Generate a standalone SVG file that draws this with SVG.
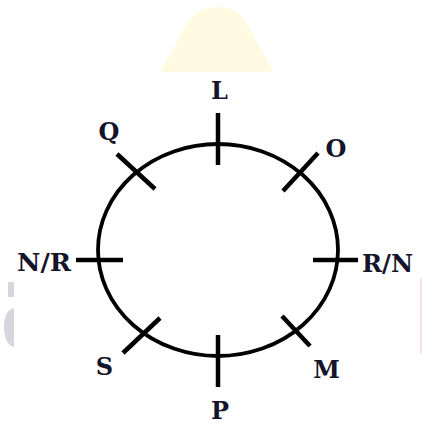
<svg xmlns="http://www.w3.org/2000/svg" width="422" height="424" viewBox="0 0 422 424">
<style>
.tick{stroke:#000;stroke-width:4.5;stroke-linecap:butt;fill:none}
.lbl{font-family:"DejaVu Serif","Liberation Serif",serif;font-weight:bold;font-size:24px;fill:#14142a;text-anchor:middle}
.ring{stroke:#000;stroke-width:3.8;fill:none}
</style>
<rect width="422" height="424" fill="#fff"/>
<g id="watermark">
<path d="M160,72 L188,22 C198,2 236,2 246,22 L274,72 Z" fill="#fffbe3"/>
<rect x="8" y="282" width="6" height="15" fill="#d6d6dd"/>
<path d="M14,308 L14,347 C6,345 4,335 4,327 C4,318 6,310 14,308 Z" fill="#d6d6dd"/>
<rect x="420" y="278" width="2" height="75" fill="#fbe0e6"/>
</g>
<g id="connectors">
<ellipse class="ring" cx="218" cy="250" rx="120" ry="106"/>
</g>
<g id="node-L"><line class="tick" x1="218" y1="113" x2="218" y2="165"/><text class="lbl" x="219.5" y="99">L</text></g>
<g id="node-O"><line class="tick" x1="283" y1="191" x2="318" y2="153"/><text class="lbl" x="336" y="157">O</text></g>
<g id="node-RN"><line class="tick" x1="313" y1="260" x2="358" y2="260"/><text class="lbl" x="387.5" y="272" textLength="51" lengthAdjust="spacingAndGlyphs">R/N</text></g>
<g id="node-M"><line class="tick" x1="282" y1="316" x2="310" y2="346"/><text class="lbl" x="326.5" y="378">M</text></g>
<g id="node-P"><line class="tick" x1="218" y1="335" x2="218" y2="387"/><text class="lbl" x="220" y="419">P</text></g>
<g id="node-S"><line class="tick" x1="123" y1="353" x2="160" y2="318"/><text class="lbl" x="104.5" y="375">S</text></g>
<g id="node-NR"><line class="tick" x1="76" y1="260" x2="123" y2="260"/><text class="lbl" x="44" y="271" textLength="54" lengthAdjust="spacingAndGlyphs">N/R</text></g>
<g id="node-Q"><line class="tick" x1="117" y1="154" x2="155" y2="189"/><text class="lbl" x="109" y="140">Q</text></g>
</svg>
